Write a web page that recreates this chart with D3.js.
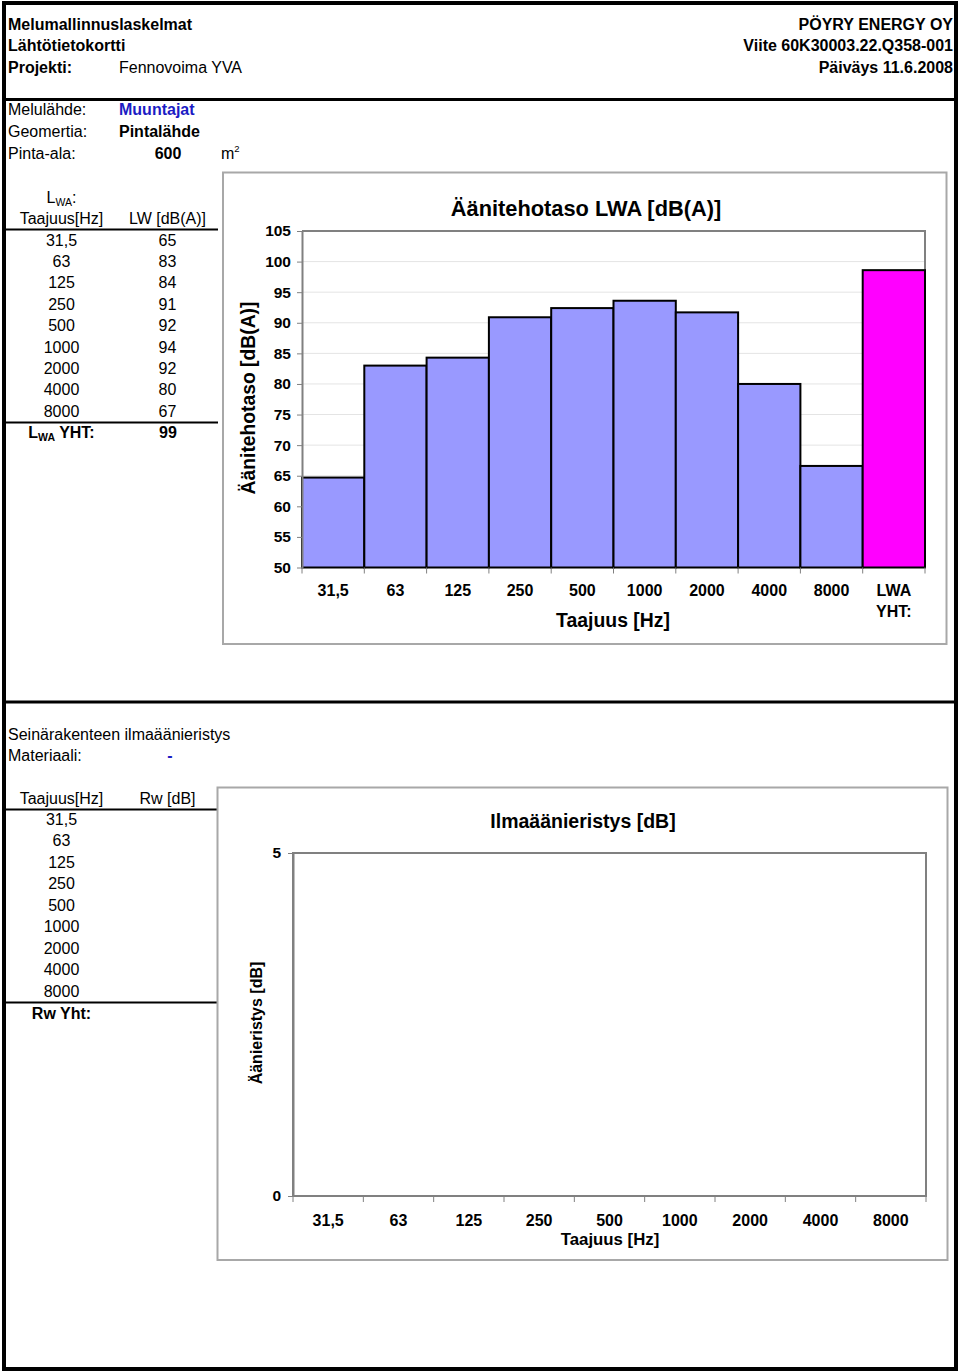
<!DOCTYPE html>
<html><head><meta charset="utf-8">
<script src="https://cdn.jsdelivr.net/npm/d3@7"></script>
<style>
html,body{margin:0;padding:0;background:#fff;}
svg{display:block;font-family:"Liberation Sans",Arial,Helvetica,sans-serif;}
</style></head><body>
<svg id="c" width="960" height="1372"></svg>
<script>
// ---------- DATA ----------
const freqLabels = ["31,5","63","125","250","500","1000","2000","4000","8000"];
const lwValues = [64.7, 83.0, 84.3, 90.9, 92.4, 93.6, 91.7, 80.0, 66.6];
const lwaTotal = 98.6;
const totalLabel = "LWA YHT:";
const chart1Categories = freqLabels.concat([totalLabel]);
const chart1Values = lwValues.concat([lwaTotal]);
const yTicks1 = [50, 55, 60, 65, 70, 75, 80, 85, 90, 95, 100, 105];
const rwValues = [];          // no insulation values given
const yTicks2 = [0, 5];

// ---------- SETUP ----------
const svg = d3.select("#c");
const FONT = '"Liberation Sans",Arial,Helvetica,sans-serif';
const FS = 16;

function txt(x, y, s, opt) {
  opt = opt || {};
  return svg.append("text").attr("x", x).attr("y", y)
    .attr("font-size", opt.size || FS)
    .attr("font-weight", opt.bold ? "bold" : "normal")
    .attr("fill", opt.fill || "#000")
    .attr("text-anchor", opt.anchor || "start")
    .text(s);
}
function hline(x1, x2, y, w, c) {
  svg.append("line").attr("x1", x1).attr("x2", x2).attr("y1", y).attr("y2", y)
    .attr("stroke", c || "#000").attr("stroke-width", w || 2);
}

// outer frame & separators
svg.append("rect").attr("x", 4).attr("y", 3).attr("width", 952).attr("height", 1366)
  .attr("fill", "none").attr("stroke", "#000").attr("stroke-width", 4);
hline(4, 956, 99.5, 3);
hline(4, 956, 702, 3);

// header
txt(8, 29.5, "Melumallinnuslaskelmat", {bold: true});
txt(8, 51, "Lähtötietokortti", {bold: true});
txt(8, 73, "Projekti:", {bold: true});
txt(119, 73, "Fennovoima YVA");
txt(953, 29.5, "PÖYRY ENERGY OY", {bold: true, anchor: "end"});
txt(953, 51, "Viite 60K30003.22.Q358-001", {bold: true, anchor: "end"});
txt(953, 73, "Päiväys 11.6.2008", {bold: true, anchor: "end"});

// source info
txt(8, 115, "Melulähde:");
txt(119, 115, "Muuntajat", {bold: true, fill: "#1c1cc4"});
txt(8, 137, "Geomertia:");
txt(119, 137, "Pintalähde", {bold: true});
txt(8, 158.5, "Pinta-ala:");
txt(168, 158.5, "600", {bold: true, anchor: "middle"});
const m2 = txt(221, 158.5, "m");
m2.append("tspan").attr("font-size", 9.5).attr("dy", -7).text("2");

// ---------- TABLE 1 ----------
const t1 = txt(61.5, 203, "L", {anchor: "middle"});
t1.append("tspan").attr("font-size", 10.5).attr("dy", 3).text("WA");
t1.append("tspan").attr("dy", -3).text(":");
txt(61.5, 223.5, "Taajuus[Hz]", {anchor: "middle"});
txt(167.5, 223.5, "LW [dB(A)]", {anchor: "middle"});
hline(6, 218, 229.5, 2);
freqLabels.forEach((f, i) => {
  const y = 245.5 + i * 21.4;
  txt(61.5, y, f, {anchor: "middle"});
  txt(167.5, y, String(Math.round(lwValues[i])), {anchor: "middle"});
});
hline(6, 218, 422.5, 2);
const ty = txt(61.5, 438, "L", {anchor: "middle", bold: true});
ty.append("tspan").attr("font-size", 10.5).attr("dy", 3).text("WA");
ty.append("tspan").attr("dy", -3).text(" YHT:");
txt(168, 438, String(Math.round(lwaTotal)), {anchor: "middle", bold: true});

// ---------- CHART 1 ----------
svg.append("rect").attr("x", 223).attr("y", 172.5).attr("width", 723.5).attr("height", 471.5)
  .attr("fill", "#fff").attr("stroke", "#a8a8a8").attr("stroke-width", 2);

const p1 = {l: 302, r: 925, t: 231, b: 567.5};
const x1 = d3.scaleBand().domain(chart1Categories).range([p1.l, p1.r]).padding(0);
const y1 = d3.scaleLinear().domain([50, 105]).range([p1.b, p1.t]);
const g1 = svg.append("g");

// gridlines
g1.selectAll("line.grid").data(yTicks1.filter(v => v > 50 && v < 105)).enter()
  .append("line").attr("x1", p1.l).attr("x2", p1.r)
  .attr("y1", d => y1(d)).attr("y2", d => y1(d))
  .attr("stroke", "#e4e4e4").attr("stroke-width", 1);

// plot border (top/right)
g1.append("path")
  .attr("d", `M${p1.l},${p1.t}H${p1.r}V${p1.b}`)
  .attr("fill", "none").attr("stroke", "#808080").attr("stroke-width", 2);

// bars
g1.selectAll("rect.bar").data(chart1Categories).enter().append("rect")
  .attr("x", d => x1(d)).attr("width", x1.bandwidth())
  .attr("y", (d, i) => y1(chart1Values[i]))
  .attr("height", (d, i) => p1.b - y1(chart1Values[i]))
  .attr("fill", (d, i) => i === chart1Categories.length - 1 ? "#ff00ff" : "#9999ff")
  .attr("stroke", "#000").attr("stroke-width", 2);

// y axis
const ya1 = g1.append("g").attr("transform", `translate(${p1.l},0)`)
  .call(d3.axisLeft(y1).tickValues(yTicks1).tickSize(5).tickSizeOuter(0).tickPadding(6));
ya1.select(".domain").attr("stroke", "#808080").attr("stroke-width", 2);
ya1.selectAll(".tick line").attr("stroke", "#808080");
ya1.selectAll("text").attr("font-size", 15.5).attr("font-weight", "bold")
  .attr("font-family", FONT).attr("fill", "#000");

// x axis
const xa1 = g1.append("g").attr("transform", `translate(0,${p1.b})`)
  .call(d3.axisBottom(x1).tickSize(0).tickPadding(17.5));
xa1.select(".domain").remove();
xa1.selectAll("text").attr("font-size", 16).attr("font-weight", "bold")
  .attr("font-family", FONT).attr("fill", "#000")
  .each(function(d) {
    if (d === totalLabel) {
      const t = d3.select(this); const dy = t.attr("dy"); t.text(null);
      t.append("tspan").attr("x", 0).attr("dy", dy).text("LWA");
      t.append("tspan").attr("x", 0).attr("dy", "1.32em").text("YHT:");
    }
  });
const bounds1 = chart1Categories.map(c => x1(c)).concat([p1.r]);
g1.selectAll("line.xt").data(bounds1).enter().append("line")
  .attr("x1", d => d).attr("x2", d => d).attr("y1", p1.b).attr("y2", p1.b + 6)
  .attr("stroke", "#808080").attr("stroke-width", 1);

// titles
txt(586, 215.5, "Äänitehotaso LWA [dB(A)]", {bold: true, size: 21.8, anchor: "middle"});
txt(613, 626.5, "Taajuus [Hz]", {bold: true, size: 19.4, anchor: "middle"});
svg.append("text").attr("transform", "translate(255,398) rotate(-90)")
  .attr("text-anchor", "middle").attr("font-size", 19.3).attr("font-weight", "bold")
  .text("Äänitehotaso [dB(A)]");

// ---------- TABLE 2 ----------
txt(8, 739.5, "Seinärakenteen ilmaäänieristys");
txt(8, 761, "Materiaali:");
txt(170, 761, "-", {bold: true, fill: "#1c1cc4", anchor: "middle"});
txt(61.5, 803.5, "Taajuus[Hz]", {anchor: "middle"});
txt(167.5, 803.5, "Rw [dB]", {anchor: "middle"});
hline(6, 217, 809.5, 2);
freqLabels.forEach((f, i) => {
  txt(61.5, 825 + i * 21.45, f, {anchor: "middle"});
});
hline(6, 217, 1002.5, 2);
txt(61.5, 1018.5, "Rw Yht:", {anchor: "middle", bold: true});

// ---------- CHART 2 ----------
svg.append("rect").attr("x", 217.5).attr("y", 787.5).attr("width", 730).attr("height", 472.5)
  .attr("fill", "#fff").attr("stroke", "#a8a8a8").attr("stroke-width", 2);

const p2 = {l: 293, r: 926, t: 853, b: 1196};
const x2 = d3.scaleBand().domain(freqLabels).range([p2.l, p2.r]).padding(0);
const y2 = d3.scaleLinear().domain([0, 5]).range([p2.b, p2.t]);
const g2 = svg.append("g");
g2.append("rect").attr("x", p2.l).attr("y", p2.t).attr("width", p2.r - p2.l).attr("height", p2.b - p2.t)
  .attr("fill", "none").attr("stroke", "#808080").attr("stroke-width", 2);

g2.selectAll("rect.bar").data(rwValues).enter().append("rect")
  .attr("x", (d, i) => x2(freqLabels[i])).attr("width", x2.bandwidth())
  .attr("y", d => y2(d)).attr("height", d => p2.b - y2(d))
  .attr("fill", "#9999ff").attr("stroke", "#000");

const ya2 = g2.append("g").attr("transform", `translate(${p2.l},0)`)
  .call(d3.axisLeft(y2).tickValues(yTicks2).tickFormat(d3.format("d"))
    .tickSize(5).tickSizeOuter(0).tickPadding(7));
ya2.select(".domain").attr("stroke", "#808080").attr("stroke-width", 2);
ya2.selectAll(".tick line").attr("stroke", "#808080");
ya2.selectAll("text").attr("font-size", 15.5).attr("font-weight", "bold")
  .attr("font-family", FONT).attr("fill", "#000");

const xa2 = g2.append("g").attr("transform", `translate(0,${p2.b})`)
  .call(d3.axisBottom(x2).tickSize(0).tickPadding(18.5));
xa2.select(".domain").remove();
xa2.selectAll("text").attr("font-size", 16).attr("font-weight", "bold")
  .attr("font-family", FONT).attr("fill", "#000");
const bounds2 = freqLabels.map(c => x2(c)).concat([p2.r]);
g2.selectAll("line.xt").data(bounds2).enter().append("line")
  .attr("x1", d => d).attr("x2", d => d).attr("y1", p2.b).attr("y2", p2.b + 6)
  .attr("stroke", "#808080").attr("stroke-width", 1);

txt(583, 828, "Ilmaäänieristys [dB]", {bold: true, size: 19.5, anchor: "middle"});
txt(610, 1245, "Taajuus [Hz]", {bold: true, size: 16.8, anchor: "middle"});
svg.append("text").attr("transform", "translate(262,1023) rotate(-90)")
  .attr("text-anchor", "middle").attr("font-size", 16).attr("font-weight", "bold")
  .text("Äänieristys [dB]");
</script>
</body></html>
